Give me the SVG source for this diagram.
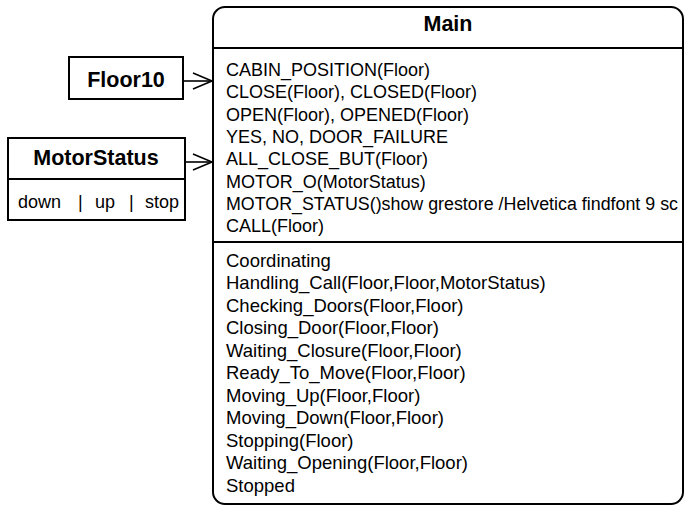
<svg xmlns="http://www.w3.org/2000/svg" width="686" height="506" viewBox="0 0 686 506">
  <style>
    .box { fill: #ffffff; stroke: #000000; stroke-width: 2; }
    .sep { stroke: #000000; stroke-width: 2; }
    .title { font-family: "Liberation Sans", Arial, sans-serif; font-weight: bold; font-size: 21.5px; fill: #000000; }
    .item { font-family: "Liberation Sans", Arial, sans-serif; font-size: 18px; fill: #000000; }
    .state { font-family: "Liberation Sans", Arial, sans-serif; font-size: 18.5px; fill: #000000; }
    .edge { fill: none; stroke: #000000; stroke-width: 1.6; }
  </style>

  <!-- Connectors: open arrowheads into Main -->
  <g id="connectors">
    <line class="edge" x1="183" y1="81" x2="212" y2="81"/>
    <polyline class="edge" points="193,73 212,81 193,89"/>
    <line class="edge" x1="185" y1="162" x2="212" y2="162"/>
    <polyline class="edge" points="193,154 212,162 193,170"/>
  </g>

  <!-- Floor10 -->
  <g id="floor10">
    <rect class="box" x="69" y="57" width="114" height="42"/>
    <text class="title" x="126" y="87" text-anchor="middle">Floor10</text>
  </g>

  <!-- MotorStatus -->
  <g id="motorstatus">
    <rect class="box" x="8" y="138" width="177" height="82"/>
    <line class="sep" x1="8" y1="179" x2="185" y2="179"/>
    <text class="title" x="96" y="165" text-anchor="middle">MotorStatus</text>
    <text class="item" y="208"><tspan x="18">down</tspan><tspan x="78">|</tspan><tspan x="95">up</tspan><tspan x="129">|</tspan><tspan x="145">stop</tspan></text>
  </g>

  <!-- Main -->
  <g id="main">
    <rect class="box" x="213" y="7" width="470" height="497" rx="12" ry="12"/>
    <line class="sep" x1="213" y1="48" x2="683" y2="48"/>
    <line class="sep" x1="213" y1="242" x2="683" y2="242"/>
    <text class="title" x="448" y="31" text-anchor="middle">Main</text>
    <text class="item" x="226" y="76">CABIN_POSITION(Floor)</text>
    <text class="item" x="226" y="98.3">CLOSE(Floor), CLOSED(Floor)</text>
    <text class="item" x="226" y="120.6">OPEN(Floor), OPENED(Floor)</text>
    <text class="item" x="226" y="142.9">YES,  NO, DOOR_FAILURE</text>
    <text class="item" x="226" y="165.2">ALL_CLOSE_BUT(Floor)</text>
    <text class="item" x="226" y="187.5">MOTOR_O(MotorStatus)</text>
    <text class="item" x="226" y="209.8" textLength="452" lengthAdjust="spacingAndGlyphs">MOTOR_STATUS()show grestore /Helvetica findfont 9 sc</text>
    <text class="item" x="226" y="232.1">CALL(Floor)</text>
    <text class="state" x="226" y="267">Coordinating</text>
    <text class="state" x="226" y="289.4">Handling_Call(Floor,Floor,MotorStatus)</text>
    <text class="state" x="226" y="311.9">Checking_Doors(Floor,Floor)</text>
    <text class="state" x="226" y="334.3">Closing_Door(Floor,Floor)</text>
    <text class="state" x="226" y="356.8">Waiting_Closure(Floor,Floor)</text>
    <text class="state" x="226" y="379.2">Ready_To_Move(Floor,Floor)</text>
    <text class="state" x="226" y="401.7">Moving_Up(Floor,Floor)</text>
    <text class="state" x="226" y="424.1">Moving_Down(Floor,Floor)</text>
    <text class="state" x="226" y="446.6">Stopping(Floor)</text>
    <text class="state" x="226" y="469">Waiting_Opening(Floor,Floor)</text>
    <text class="state" x="226" y="491.5">Stopped</text>
  </g>
</svg>
